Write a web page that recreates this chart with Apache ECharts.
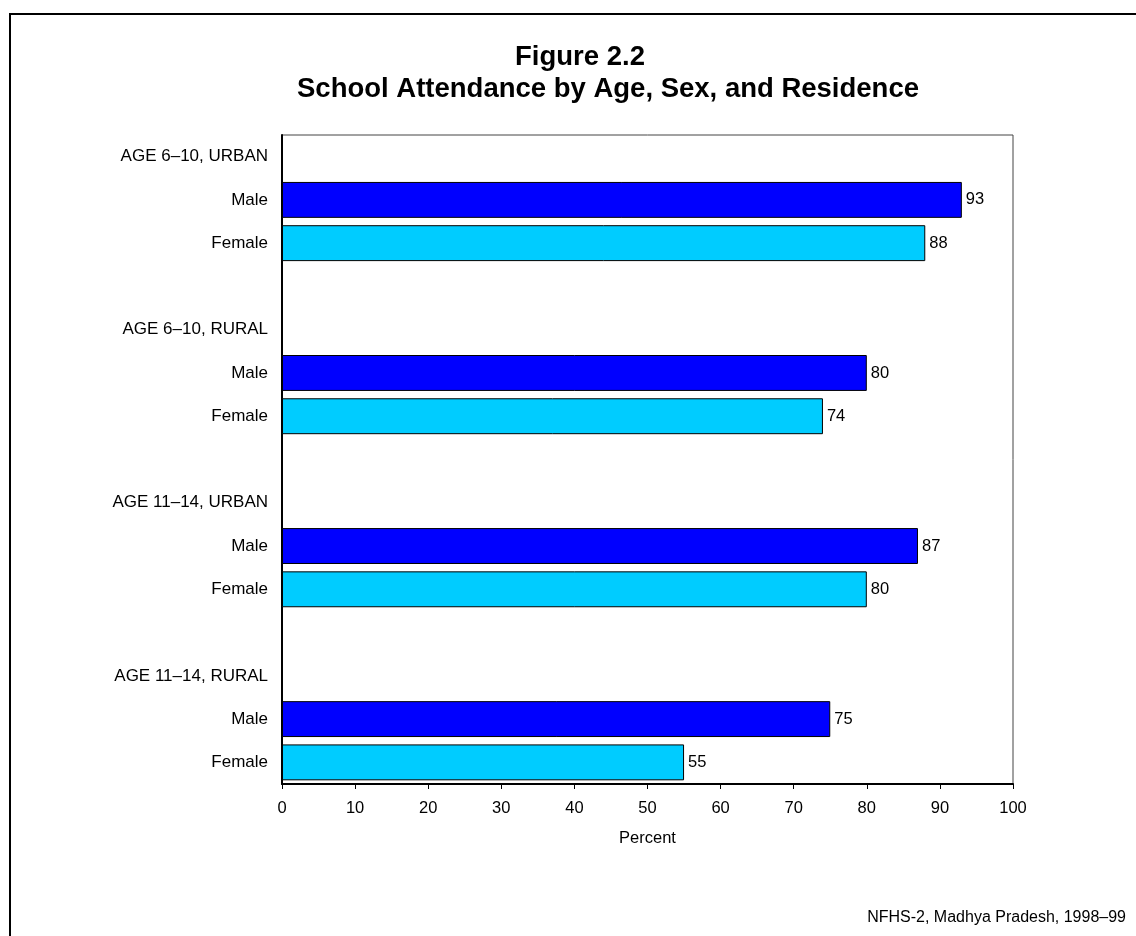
<!DOCTYPE html>
<html><head><meta charset="utf-8">
<script src="https://cdn.jsdelivr.net/npm/echarts@6/dist/echarts.min.js"></script>
<style>html,body{margin:0;padding:0;background:#fff}#c{width:1136px;height:936px}</style>
</head><body><div id="c"></div>
<script>
const categories = ["AGE 6–10, URBAN","Male","Female","","AGE 6–10, RURAL","Male","Female","","AGE 11–14, URBAN","Male","Female","","AGE 11–14, RURAL","Male","Female"];
const values = [null,93,88,null,null,80,74,null,null,87,80,null,null,75,55];
const sexes = [null,"Male","Female",null,null,"Male","Female",null,null,"Male","Female",null,null,"Male","Female"];
const xTicks = [0,10,20,30,40,50,60,70,80,90,100];
const colors = {Male:"#0000FF", Female:"#00CCFF"};
const font = "Liberation Sans, Arial, sans-serif";
const fs = 16.5;

const chart = echarts.init(document.getElementById('c'));
chart.setOption({
  animation:false,
  backgroundColor:'#fff',
  graphic:[
    {type:'rect',shape:{x:10,y:14,width:1200,height:1000},style:{fill:'none',stroke:'#000',lineWidth:2},silent:true},
    {type:'text',x:580,y:57,style:{text:'Figure 2.2',font:'bold 27.5px '+font,fill:'#000',align:'center',verticalAlign:'middle'}},
    {type:'text',x:608,y:89,style:{text:'School Attendance by Age, Sex, and Residence',font:'bold 27.5px '+font,fill:'#000',align:'center',verticalAlign:'middle'}},
    {type:'text',x:1126,y:918,style:{text:'NFHS-2, Madhya Pradesh, 1998–99',font:'16px '+font,fill:'#000',align:'right',verticalAlign:'middle'}}
  ],
  grid:{left:282,top:135,width:731,height:649,show:true,borderColor:'#444',borderWidth:1,backgroundColor:'transparent'},
  xAxis:{
    type:'value',min:0,max:100,interval:10,
    name:'Percent',nameLocation:'middle',nameGap:46,
    nameTextStyle:{fontFamily:font,fontSize:fs,color:'#000'},
    axisLine:{show:true,lineStyle:{color:'#000',width:2}},
    axisTick:{show:true,length:5,lineStyle:{color:'#000'}},
    axisLabel:{fontFamily:font,fontSize:fs,color:'#000',margin:16,formatter:v=>xTicks.includes(v)?String(v):''},
    splitLine:{show:false}
  },
  yAxis:{
    type:'category',inverse:true,data:categories,
    axisLine:{show:true,lineStyle:{color:'#000',width:2}},
    axisTick:{show:false},
    axisLabel:{fontFamily:font,fontSize:17,color:'#000',margin:14,interval:0},
    splitLine:{show:false}
  },
  series:[{
    type:'bar',
    barCategoryGap:'17%',
    data:values.map((v,i)=>v===null?null:{value:v,itemStyle:{color:colors[sexes[i]]}}),
    itemStyle:{borderColor:'#000',borderWidth:1},
    label:{show:true,position:'right',distance:4,fontFamily:font,fontSize:fs,color:'#000'}
  }]
});
</script></body></html>
